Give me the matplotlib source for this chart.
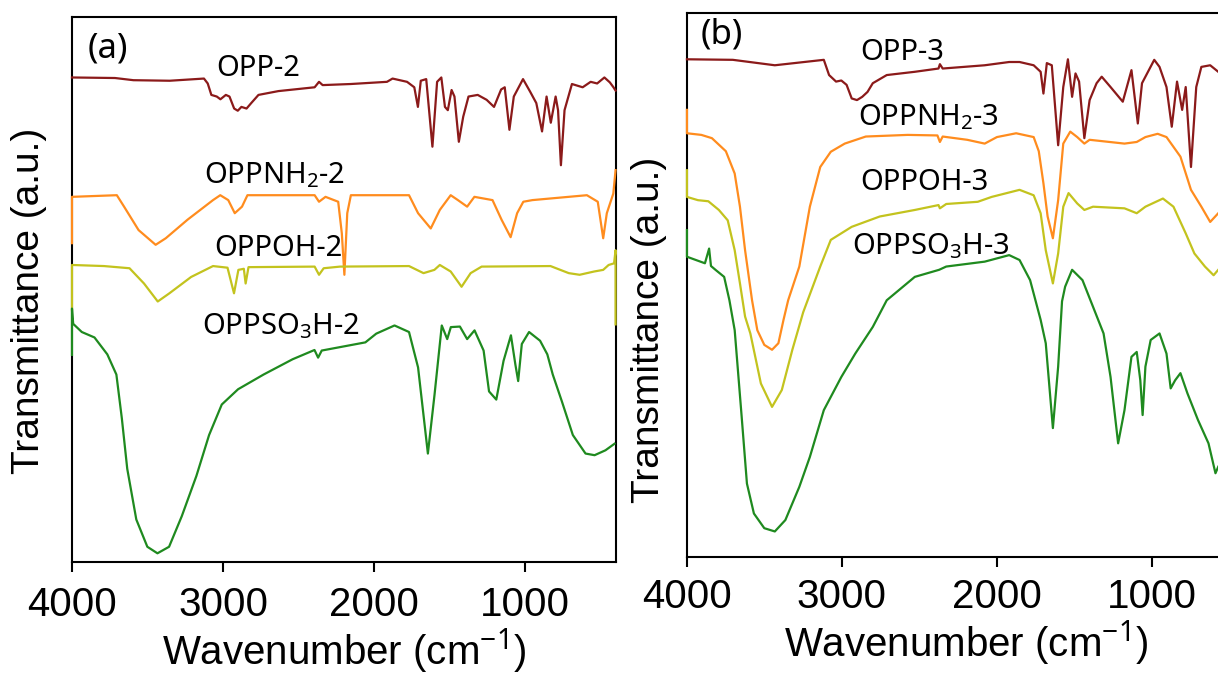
import numpy as np
import matplotlib.pyplot as plt
from matplotlib import font_manager

# FTIR spectra, (wavenumber cm-1, transmittance a.u.)
opp2 = np.array([
    [4000, 88.9], [3715, 88.8], [3593, 88.4], [3353, 88.3], [3126, 88.7], [3101, 87.8],
    [3077, 85.7], [3041, 85.4], [3017, 84.9], [2981, 85.7], [2957, 85.4], [2926, 83.2],
    [2902, 82.8], [2878, 83.5], [2844, 83.2], [2813, 84.2], [2765, 85.7], [2633, 86.4],
    [2393, 87.1], [2364, 88.1], [2340, 87.5], [2153, 87.7], [1914, 88.1], [1877, 88.7],
    [1781, 88.1], [1733, 87.1], [1709, 83.5], [1690, 88.3], [1654, 88.6], [1613, 76.2],
    [1582, 88.1], [1554, 88.9], [1530, 83.5], [1511, 82.9], [1486, 86.6], [1467, 85.4],
    [1438, 77.1], [1409, 81.7], [1374, 85.4], [1313, 85.7], [1254, 84.8], [1205, 83.5],
    [1158, 86.7], [1134, 87.1], [1103, 79.3], [1074, 85.4], [1013, 88.6], [966, 86.3],
    [925, 84.2], [887, 79.0], [857, 85.4], [829, 80.6], [797, 85.4], [781, 82.9],
    [762, 72.8], [738, 82.9], [689, 87.7], [618, 87.1], [565, 88.1], [522, 87.8],
    [474, 88.9], [438, 88.0], [414, 87.1], [400, 86.5]])

oppnh2_2 = np.array([
    [4000, 58.5], [4000, 67.0], [3703, 67.3], [3655, 65.2], [3559, 60.9], [3446, 58.2],
    [3379, 59.4], [3235, 62.8], [3066, 66.4], [3018, 67.3], [2965, 66.4], [2922, 64.0],
    [2874, 65.2], [2838, 67.3], [2393, 67.3], [2364, 66.1], [2321, 67.0], [2237, 66.1],
    [2213, 60.3], [2196, 52.7], [2177, 64.0], [2153, 67.3], [1768, 67.3], [1708, 64.0],
    [1624, 61.2], [1564, 64.6], [1492, 67.3], [1444, 66.4], [1383, 65.2], [1335, 67.0],
    [1215, 66.4], [1155, 62.8], [1095, 59.6], [1052, 64.0], [1011, 66.1], [951, 66.4],
    [590, 67.3], [518, 66.1], [482, 59.4], [458, 64.0], [415, 67.6], [400, 71.9]])

oppoh2 = np.array([
    [4000, 46.2], [4000, 54.5], [3788, 54.3], [3619, 53.9], [3523, 51.1], [3432, 47.8],
    [3355, 49.3], [3211, 52.3], [3066, 54.3], [2970, 54.0], [2927, 49.3], [2898, 53.6],
    [2862, 53.8], [2850, 51.1], [2831, 54.1], [2393, 54.2], [2364, 52.7], [2333, 53.9],
    [2225, 54.2], [1768, 54.3], [1672, 53.0], [1600, 53.6], [1564, 54.5], [1492, 53.3],
    [1420, 50.5], [1360, 53.0], [1287, 54.2], [831, 54.3], [710, 53.0], [638, 52.7],
    [542, 53.3], [482, 53.6], [446, 54.5], [410, 54.8], [400, 57.2], [400, 43.6]])

oppso3h2 = np.array([
    [4000, 38.0], [4000, 46.5], [3992, 43.7], [3935, 42.2], [3851, 41.2], [3766, 38.1],
    [3706, 34.4], [3670, 26.4], [3634, 17.1], [3574, 7.8], [3501, 2.8], [3434, 1.6],
    [3357, 2.8], [3273, 8.4], [3176, 15.8], [3092, 23.3], [3008, 28.9], [2900, 31.7],
    [2731, 34.4], [2539, 37.2], [2394, 38.9], [2370, 37.5], [2346, 38.8], [2057, 40.3],
    [1985, 41.9], [1864, 43.4], [1768, 42.2], [1708, 35.7], [1643, 19.9], [1599, 30.7],
    [1551, 43.4], [1515, 40.9], [1491, 43.1], [1431, 43.2], [1383, 40.9], [1334, 42.5],
    [1274, 38.8], [1238, 31.3], [1190, 29.8], [1142, 36.9], [1093, 41.6], [1064, 36.3],
    [1045, 33.2], [1021, 40.0], [973, 42.2], [900, 40.6], [852, 38.1], [816, 34.4],
    [756, 29.5], [683, 23.3], [599, 19.9], [539, 19.6], [467, 20.5], [407, 21.7]])

opp3 = np.array([
    [4000, 91.5], [3704, 91.4], [3433, 90.4], [3117, 91.4], [3083, 88.6], [3038, 87.4],
    [3004, 87.6], [2970, 86.8], [2937, 84.3], [2903, 84.0], [2869, 84.6], [2835, 85.5],
    [2801, 87.1], [2711, 88.6], [2530, 89.2], [2377, 89.8], [2368, 90.6], [2350, 89.8],
    [2079, 90.4], [1921, 91.0], [1854, 91.0], [1763, 90.4], [1718, 89.2], [1700, 85.2],
    [1678, 90.8], [1646, 90.4], [1605, 75.7], [1572, 86.4], [1542, 91.5], [1515, 84.6],
    [1493, 88.9], [1470, 87.4], [1436, 77.0], [1402, 84.0], [1357, 87.1], [1324, 88.3],
    [1267, 86.4], [1188, 83.7], [1132, 89.5], [1091, 79.7], [1064, 87.1], [985, 91.4],
    [951, 90.1], [906, 86.4], [872, 79.1], [838, 87.4], [805, 82.2], [782, 86.4],
    [748, 71.7], [714, 86.4], [681, 90.1], [624, 90.4], [572, 89.2]])

oppnh2_3 = np.array([
    [4000, 82.2], [4000, 77.9], [3907, 77.6], [3839, 77.0], [3749, 74.6], [3692, 70.5],
    [3658, 64.4], [3625, 56.4], [3580, 47.2], [3546, 41.7], [3501, 39.0], [3451, 38.1],
    [3410, 39.3], [3377, 43.6], [3347, 47.2], [3275, 53.4], [3207, 64.4], [3140, 71.7],
    [3072, 74.5], [2982, 76.0], [2846, 77.3], [2576, 77.6], [2384, 77.5], [2368, 76.3],
    [2350, 77.3], [2192, 76.7], [2079, 76.0], [2000, 77.2], [1876, 77.9], [1763, 77.2],
    [1730, 74.6], [1700, 68.7], [1673, 62.6], [1639, 58.6], [1605, 65.6], [1572, 76.0],
    [1527, 78.2], [1482, 77.2], [1436, 76.0], [1402, 76.7], [1177, 76.0], [1098, 76.3],
    [1042, 77.2], [963, 77.8], [906, 77.2], [816, 73.6], [748, 67.5], [681, 64.4],
    [624, 61.6], [572, 63.2]])

oppoh3 = np.array([
    [4000, 71.1], [4000, 66.2], [3929, 65.6], [3862, 65.4], [3794, 63.8], [3737, 61.9],
    [3692, 56.4], [3658, 50.3], [3625, 44.2], [3591, 41.1], [3523, 31.9], [3451, 27.6],
    [3388, 30.7], [3320, 38.1], [3250, 45.0], [3140, 53.4], [3072, 58.3], [2937, 60.7],
    [2756, 62.6], [2530, 63.8], [2377, 64.7], [2368, 64.1], [2327, 64.9], [2124, 65.3],
    [2034, 66.2], [1854, 67.5], [1763, 66.5], [1718, 63.2], [1685, 56.4], [1639, 50.3],
    [1605, 55.8], [1572, 64.4], [1538, 66.9], [1482, 65.0], [1436, 63.8], [1380, 64.4],
    [1177, 64.1], [1098, 63.2], [1042, 64.4], [929, 65.9], [861, 64.4], [782, 59.5],
    [726, 55.8], [658, 53.4], [602, 51.8], [572, 52.8]])

oppso3h3 = np.array([
    [4000, 60.1], [4000, 55.2], [3884, 54.0], [3857, 56.7], [3845, 53.5], [3816, 52.8],
    [3760, 51.5], [3726, 47.2], [3692, 41.7], [3647, 25.8], [3613, 13.5], [3568, 8.0],
    [3501, 5.3], [3433, 4.7], [3365, 6.8], [3275, 12.9], [3207, 18.4], [3117, 27.0],
    [3004, 33.1], [2914, 37.4], [2801, 42.3], [2711, 47.2], [2530, 51.5], [2373, 52.8],
    [2327, 53.4], [2079, 54.3], [1921, 55.5], [1854, 54.6], [1786, 50.9], [1718, 43.6],
    [1685, 39.3], [1639, 23.7], [1605, 35.0], [1580, 47.0], [1560, 49.7], [1515, 52.8],
    [1448, 50.9], [1380, 46.0], [1312, 41.1], [1267, 33.1], [1218, 20.9], [1177, 27.0],
    [1132, 36.8], [1098, 37.7], [1075, 32.5], [1060, 26.1], [1042, 35.0], [1008, 39.9],
    [951, 41.1], [906, 37.4], [879, 31.0], [850, 32.5], [816, 33.8], [771, 30.1],
    [703, 25.2], [635, 20.9], [590, 15.4], [572, 16.6]])

labels_a = ['OPP-2', 'OPPNH$_2$-2', 'OPPOH-2', 'OPPSO$_3$H-2']
labels_b = ['OPP-3', 'OPPNH$_2$-3', 'OPPOH-3', 'OPPSO$_3$H-3']
label_pos_a = [(2768, 90.5), (2656, 71.0), (2636, 57.6), (2616, 43.3)]
label_pos_b = [(2613, 92.8), (2439, 80.9), (2465, 68.8), (2426, 57.2)]
xticks = [4000, 3000, 2000, 1000]

colors = ['#8b1a1a', '#ff8c1e', '#c3c31e', '#1f8a1f']

names = {f.name for f in font_manager.fontManager.ttflist}
axis_font = 'Liberation Sans Narrow' if 'Liberation Sans Narrow' in names else 'Liberation Sans'
label_font = 'Noto Sans'

plt.rcParams['mathtext.fontset'] = 'custom'
plt.rcParams['mathtext.rm'] = label_font
plt.rcParams['mathtext.it'] = label_font
plt.rcParams['mathtext.bf'] = label_font

fig = plt.figure(figsize=(12.18, 6.76), dpi=100)
ax_a = fig.add_axes([0.0591, 0.1686, 0.4463, 0.8063])
ax_b = fig.add_axes([0.5640, 0.1760, 0.4581, 0.8047])


def draw_panel(ax, spectra, labels, label_pos, tag, tag_pos, tick_pad, ylab_x, ylab_y):
    for spec, c in zip(spectra, colors):
        ax.plot(spec[:, 0], spec[:, 1], color=c, lw=1.6, zorder=3, clip_on=False)
    for lab, (x, y) in zip(labels, label_pos):
        ax.text(x, y, lab, fontsize=21, family=label_font, ha='center', va='center')
    ax.text(tag_pos[0], tag_pos[1], tag, fontsize=25, family=label_font,
            ha='left', va='center')

    ax.set_xlim(4000, 400)
    ax.set_ylim(0, 100)
    ax.set_xticks(xticks)
    ax.set_yticks([])
    ax.tick_params(axis='x', direction='out', length=7, width=1.5, pad=tick_pad,
                   labelsize=29)
    for t in ax.get_xticklabels():
        t.set_family(axis_font)
    for s in ax.spines.values():
        s.set_linewidth(1.5)
    ax.set_xlabel('Wavenumber (cm$^{-1}$)', fontsize=29, family=axis_font, labelpad=2)
    ax.set_ylabel('Transmittance (a.u.)', fontsize=28, family=axis_font)
    ax.yaxis.set_label_coords(ylab_x, ylab_y)


draw_panel(ax_a, [opp2, oppnh2_2, oppoh2, oppso3h2], labels_a, label_pos_a,
           '(a)', (3894, 94.3), 10, -0.046, 0.479)
draw_panel(ax_b, [opp3, oppnh2_3, oppoh3, oppso3h3], labels_b, label_pos_b,
           '(b)', (3910, 96.0), 8, -0.036, 0.417)

fig.savefig('out.png', dpi=100)
